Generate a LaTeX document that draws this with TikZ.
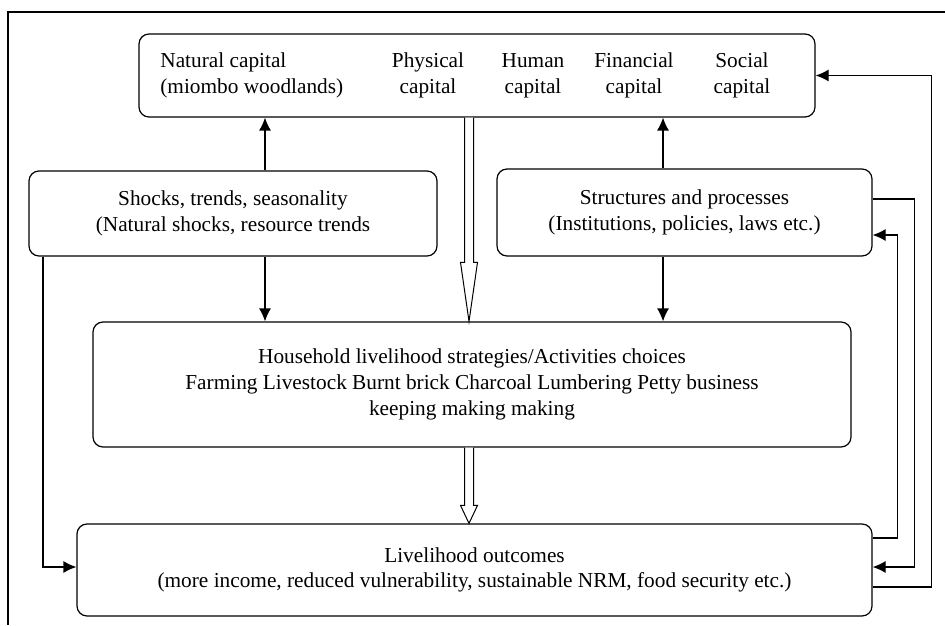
\documentclass[tikz,border=0pt]{standalone}
\usepackage{fontspec}
\setmainfont{Liberation Serif}
\usepackage{tikz}
\usetikzlibrary{calc,arrows.meta}
\newcommand{\hollowarrow}[3]{%
  \draw[hollow] ($(#1)+(-4.5,0)$) -- ($(#2)+(-4.5,-#3)$) -- ++(-4,0) -- (#2)
    -- ($(#2)+(8.5,-#3)$) -- ++(-4,0) -- ($(#1)+(4.5,0)$);}
\tikzstyle{caja} = [draw, rounded corners=5pt, line width=0.6pt, align=center, inner sep=0pt]
\tikzstyle{texto} = [inner sep=0pt, align=center]
\tikzstyle{flecha} = [line width=0.6pt, -{Latex[length=6.5pt,width=6pt]}]
\tikzstyle{hollow} = [line width=0.5pt, fill=white]
\tikzstyle{marco} = [line width=0.8pt]

\begin{document}
\begin{tikzpicture}[x=0.5pt,y=-0.5pt,font=\fontsize{10.65}{12.9}\selectfont]
		\useasboundingbox (0,0) rectangle (945,625);
		\draw[marco] (945,12) -- (8,12) -- (8,625);

		% boxes
		\node[caja, minimum width=338pt, minimum height=41.5pt] (capitals) at (477,75.5) {};
		\node[caja, minimum width=204pt, minimum height=42.5pt] (shocks) at (233,213.5)
			{Shocks, trends, seasonality\\(Natural shocks, resource trends};
		\node[caja, minimum width=187.5pt, minimum height=43.5pt] (structures) at (684.5,212.5)
			{Structures and processes\\(Institutions, policies, laws etc.)};
		\node[caja, minimum width=379pt, minimum height=62.5pt] (household) at (472,384.5)
			{Household livelihood strategies/Activities choices\\
			Farming Livestock Burnt brick Charcoal Lumbering Petty business\\
			keeping making making};
		\node[caja, minimum width=397.5pt, minimum height=46pt] (outcomes) at (474.5,570)
			{Livelihood outcomes\\
			(more income, reduced vulnerability, sustainable NRM, food security etc.)};

		% capitals
		\node[texto, align=left, anchor=west] (natural) at (160,75.5) {Natural capital\\(miombo woodlands)};
		\node[texto] (physical) at (428,75.5) {Physical\\capital};
		\node[texto] (human) at (533,75.5) {Human\\capital};
		\node[texto] (financial) at (634,75.5) {Financial\\capital};
		\node[texto] (social) at (742,75.5) {Social\\capital};

		% connectors
		\coordinate (lcol) at (265,0);
		\coordinate (mcol) at (469,0);
		\coordinate (rcol) at (663,0);
		\draw[flecha] (shocks.north -| lcol) -- (capitals.south -| lcol);
		\draw[flecha] (shocks.south -| lcol) -- (household.north -| lcol);
		\draw[flecha] (structures.north -| rcol) -- (capitals.south -| rcol);
		\draw[flecha] (structures.south -| rcol) -- (household.north -| rcol);
		\hollowarrow{capitals.south -| mcol}{household.north -| mcol}{59}
		\hollowarrow{household.south -| mcol}{outcomes.north -| mcol}{18}

		\draw[flecha] ($(shocks.south)+(-190,0)$) |- ($(outcomes.west)+(0,-3)$);
		\draw[flecha] ($(structures.east)+(0,-13.5)$) -- ++(42,0) |- ($(outcomes.east)+(0,-3)$);
		\draw[flecha] ($(outcomes.east)+(0,-32)$) -- ++(25,0) |- ($(structures.east)+(0,22.5)$);
		\draw[flecha] ($(outcomes.east)+(0,17)$) -- ++(59,0) |- (capitals.east);
	\end{tikzpicture}
\end{document}
